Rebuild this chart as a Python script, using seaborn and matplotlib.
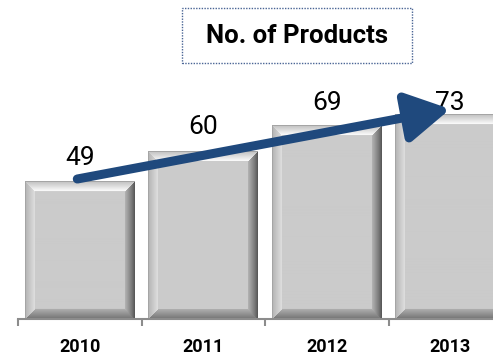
import numpy as np
import pandas as pd
import matplotlib
matplotlib.use("Agg")
import matplotlib.pyplot as plt
from matplotlib.patches import Rectangle
import seaborn as sns

# Chart data
years = ["2010", "2011", "2012", "2013"]
products = [49, 60, 69, 73]
title = "No. of Products"

df = pd.DataFrame({"year": years, "products": products})

sns.set_theme(style="white")
plt.rcParams["font.family"] = ["Roboto", "DejaVu Sans"]

W, H, DPI = 493, 355, 100
fig = plt.figure(figsize=(W / DPI, H / DPI), dpi=DPI)

# Plot area: baseline 36 px from bottom, top 92 px from top; the last
# category runs slightly past the right edge of the figure.
left_px, bottom_px, top_px, slot_px = 18, 36, 92, 123.5
ax = fig.add_axes([left_px / W, bottom_px / H,
                   4 * slot_px / W, (H - bottom_px - top_px) / H])

sns.barplot(data=df, x="year", y="products", color="#c9c9c9",
            width=0.89, ax=ax, zorder=1, saturation=1)

ymax = (H - bottom_px - top_px) / 2.8
ax.set_xlim(-0.5, len(years) - 0.5)
ax.set_ylim(0, ymax)

# Pixel scale of the data axes
ppu_x = slot_px
ppu_y = 2.8


def bevel_image(wpx, hpx, b=10):
    """Grey beveled face, shaded like a raised button."""
    wpx, hpx = int(round(wpx)), int(round(hpx))
    yy, xx = np.mgrid[0:hpx, 0:wpx].astype(float) + 0.5
    d_left = xx
    d_right = wpx - xx
    d_top = yy
    d_bot = hpx - yy
    dists = np.stack([d_top, d_left, d_right, d_bot])
    region = np.argmin(dists, axis=0)
    dmin = np.min(dists, axis=0)
    t = np.clip(dmin / b, 0, 1)
    face = 203.0
    val = np.full((hpx, wpx), face)
    top = 190 + 62 * t
    lft = 178 + 45 * t
    rgt = 80 + 100 * t ** 0.8
    bot = 115 + 60 * t
    bevel = dmin < b
    for k, arr in enumerate([top, lft, rgt, bot]):
        m = bevel & (region == k)
        val[m] = arr[m]
    # thin outer outline
    edge = dmin < 1.2
    val[edge] = np.minimum(val[edge], 165)
    rgb = np.repeat((val / 255.0)[..., None], 3, axis=2)
    return np.clip(rgb, 0, 1)


for p in ax.patches:
    x0, w, h = p.get_x(), p.get_width(), p.get_height()
    img = bevel_image(w * ppu_x, h * ppu_y)
    ax.imshow(img, extent=(x0, x0 + w, 0, h), aspect="auto",
              interpolation="bilinear", zorder=2)
    p.set_visible(False)

ax.set_xlim(-0.5, len(years) - 0.5)
ax.set_ylim(0, ymax)

# Value labels above each bar, kept inside the plot area
cap = ymax - 6.5
for i, v in enumerate(products):
    ax.text(i, min(v + 6.0, cap), str(v), ha="center", va="baseline",
            fontsize=19, color="black", zorder=5, clip_on=False)

# Trend arrow
ax.annotate("", xy=(3.0, 75.0), xytext=(-0.02, 50.0),
            arrowprops=dict(arrowstyle="-|>,head_length=2.2,head_width=1.25",
                            color="#1f497d", lw=6.5, shrinkA=0, shrinkB=0,
                            capstyle="round"),
            zorder=6, annotation_clip=False)

# Axes styling
for s in ["top", "left", "right"]:
    ax.spines[s].set_visible(False)
ax.spines["bottom"].set_color("#8c8c8c")
ax.spines["bottom"].set_linewidth(1.5)
ax.set_yticks([])
ax.set_xlabel("")
ax.set_ylabel("")
ax.set_xticks(range(len(years)))
ax.set_xticklabels(years, fontweight="bold", fontsize=13, color="black")
ax.set_xticks(np.arange(-0.5, len(years), 1.0), minor=True)
ax.tick_params(axis="x", which="major", length=0, pad=13.5)
ax.tick_params(axis="x", which="minor", length=5, width=1.5,
               color="#8c8c8c", direction="out", bottom=True)
ax.patch.set_alpha(0)

# Title box
bx0, by0, bx1, by1 = 182, 8, 412, 63
fig.patches.append(Rectangle((bx0 / W, 1 - by1 / H), (bx1 - bx0) / W,
                             (by1 - by0) / H, transform=fig.transFigure,
                             fill=False, edgecolor="#4a6595", lw=1.0,
                             linestyle=(0, (1, 1))))
fig.text((bx0 + bx1) / 2 / W, 1 - 36 / H, title, ha="center", va="center",
         fontsize=18.5, fontweight="bold", color="black")

fig.savefig("out.png", dpi=DPI)
